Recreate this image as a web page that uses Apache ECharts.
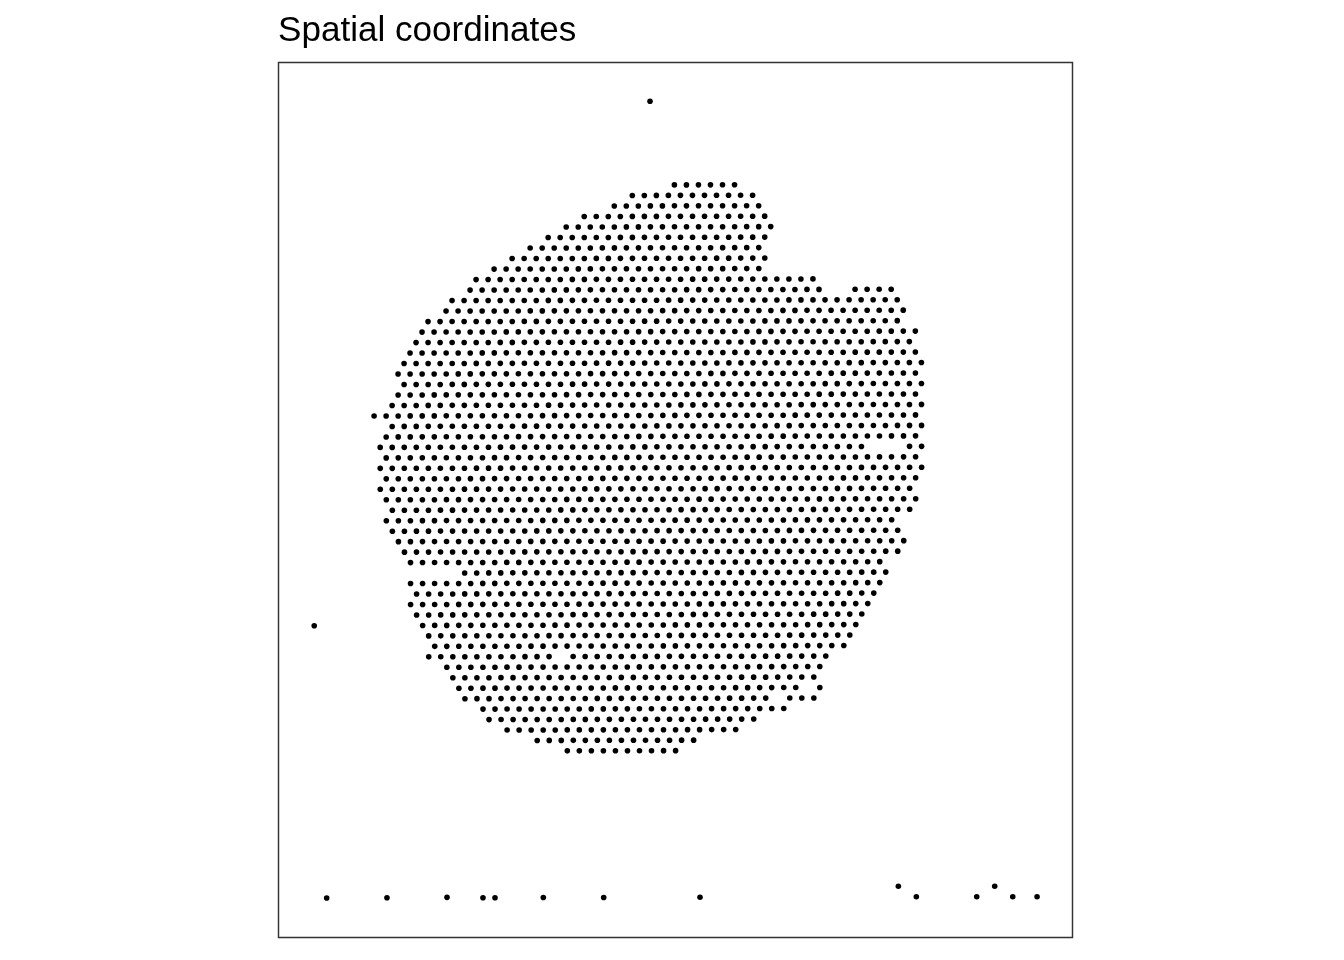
<!DOCTYPE html>
<html>
<head>
<meta charset="utf-8">
<style>html,body{margin:0;padding:0;background:#fff}#c{width:1344px;height:960px}</style>
<script src="https://cdn.jsdelivr.net/npm/echarts@6/dist/echarts.min.js"></script>
</head>
<body>
<div id="c"></div>
<script>
const chartTitle = "Spatial coordinates";
// Spots per array row: pairs of first/last array column of each unbroken run (spots on every 2nd column).
const rowSpans = [
[5,15],[-2,18],[-5,19],[-10,20],[-13,21],[-16,20],[-19,19],[-22,20],[-25,19],[-28,28],
[-29,29,35,41],[-32,42],[-33,43],[-36,42],[-37,45],[-38,44],[-39,45],[-40,46],[-41,45],[-40,46],
[-41,45],[-42,46],[-45,45],[-42,46],[-43,45],[-44,36,44,46],[-43,45],[-44,46],[-43,45],[-44,44],
[-43,45],[-42,44],[-43,41],[-42,42],[-41,43],[-40,42],[-39,39],[-30,40],[-39,39],[-38,38],
[-39,37],[-38,36],[-37,35],[-36,34],[-35,33],[-36,-16,-12,30],[-33,29],[-32,28],[-31,25,29,29],[-30,20,24,28],
[-27,23],[-26,18],[-23,15],[-18,8],[-13,5]
];
// Slight rotation of the slide's grid (column per row, row per column).
const colPerRow = 0.0037;
const rowPerCol = -0.00115;
// Isolated spots outside the tissue: [column, row]
const strayColumns = [0.95,-54.87,-52.8,-42.78,-32.8,-26.82,-24.82,-16.79,-6.75,9.26,42.23,45.22,55.26,58.25,61.25,65.29];
const strayRows = [-7.99,42.08,68.06,68.03,68.0,68.03,68.03,68.01,68.01,67.99,66.94,67.94,67.94,66.94,67.94,67.94];
const columnRange = [-60.81, 71.18];
const rowRange = [-11.69, 71.83];

const points = [];
rowSpans.forEach((spans, row) => {
  for (let s = 0; s < spans.length; s += 2) {
    for (let col = spans[s]; col <= spans[s + 1]; col += 2) {
      points.push([col + colPerRow * row, row + rowPerCol * col]);
    }
  }
});
strayColumns.forEach((col, i) => points.push([col, strayRows[i]]));

const chart = echarts.init(document.getElementById('c'), null, {renderer: 'canvas'});
chart.setOption({
  animation: false,
  backgroundColor: '#ffffff',
  title: {
    text: chartTitle, left: 278, top: 14, padding: 0,
    textStyle: {fontFamily: 'Liberation Sans', fontSize: 35.1, fontWeight: 'normal', color: '#000000'}
  },
  grid: {show: true, left: 278.5, top: 62.5, width: 794, height: 875, borderColor: '#333333', borderWidth: 1.45, backgroundColor: '#ffffff'},
  xAxis: {type: 'value', min: columnRange[0], max: columnRange[1], show: false},
  yAxis: {type: 'value', min: rowRange[0], max: rowRange[1], inverse: true, show: false},
  series: [{
    type: 'scatter', data: points, symbol: 'circle', symbolSize: 5.6,
    itemStyle: {color: '#000000', opacity: 1}, silent: true
  }]
});
</script>
</body>
</html>
